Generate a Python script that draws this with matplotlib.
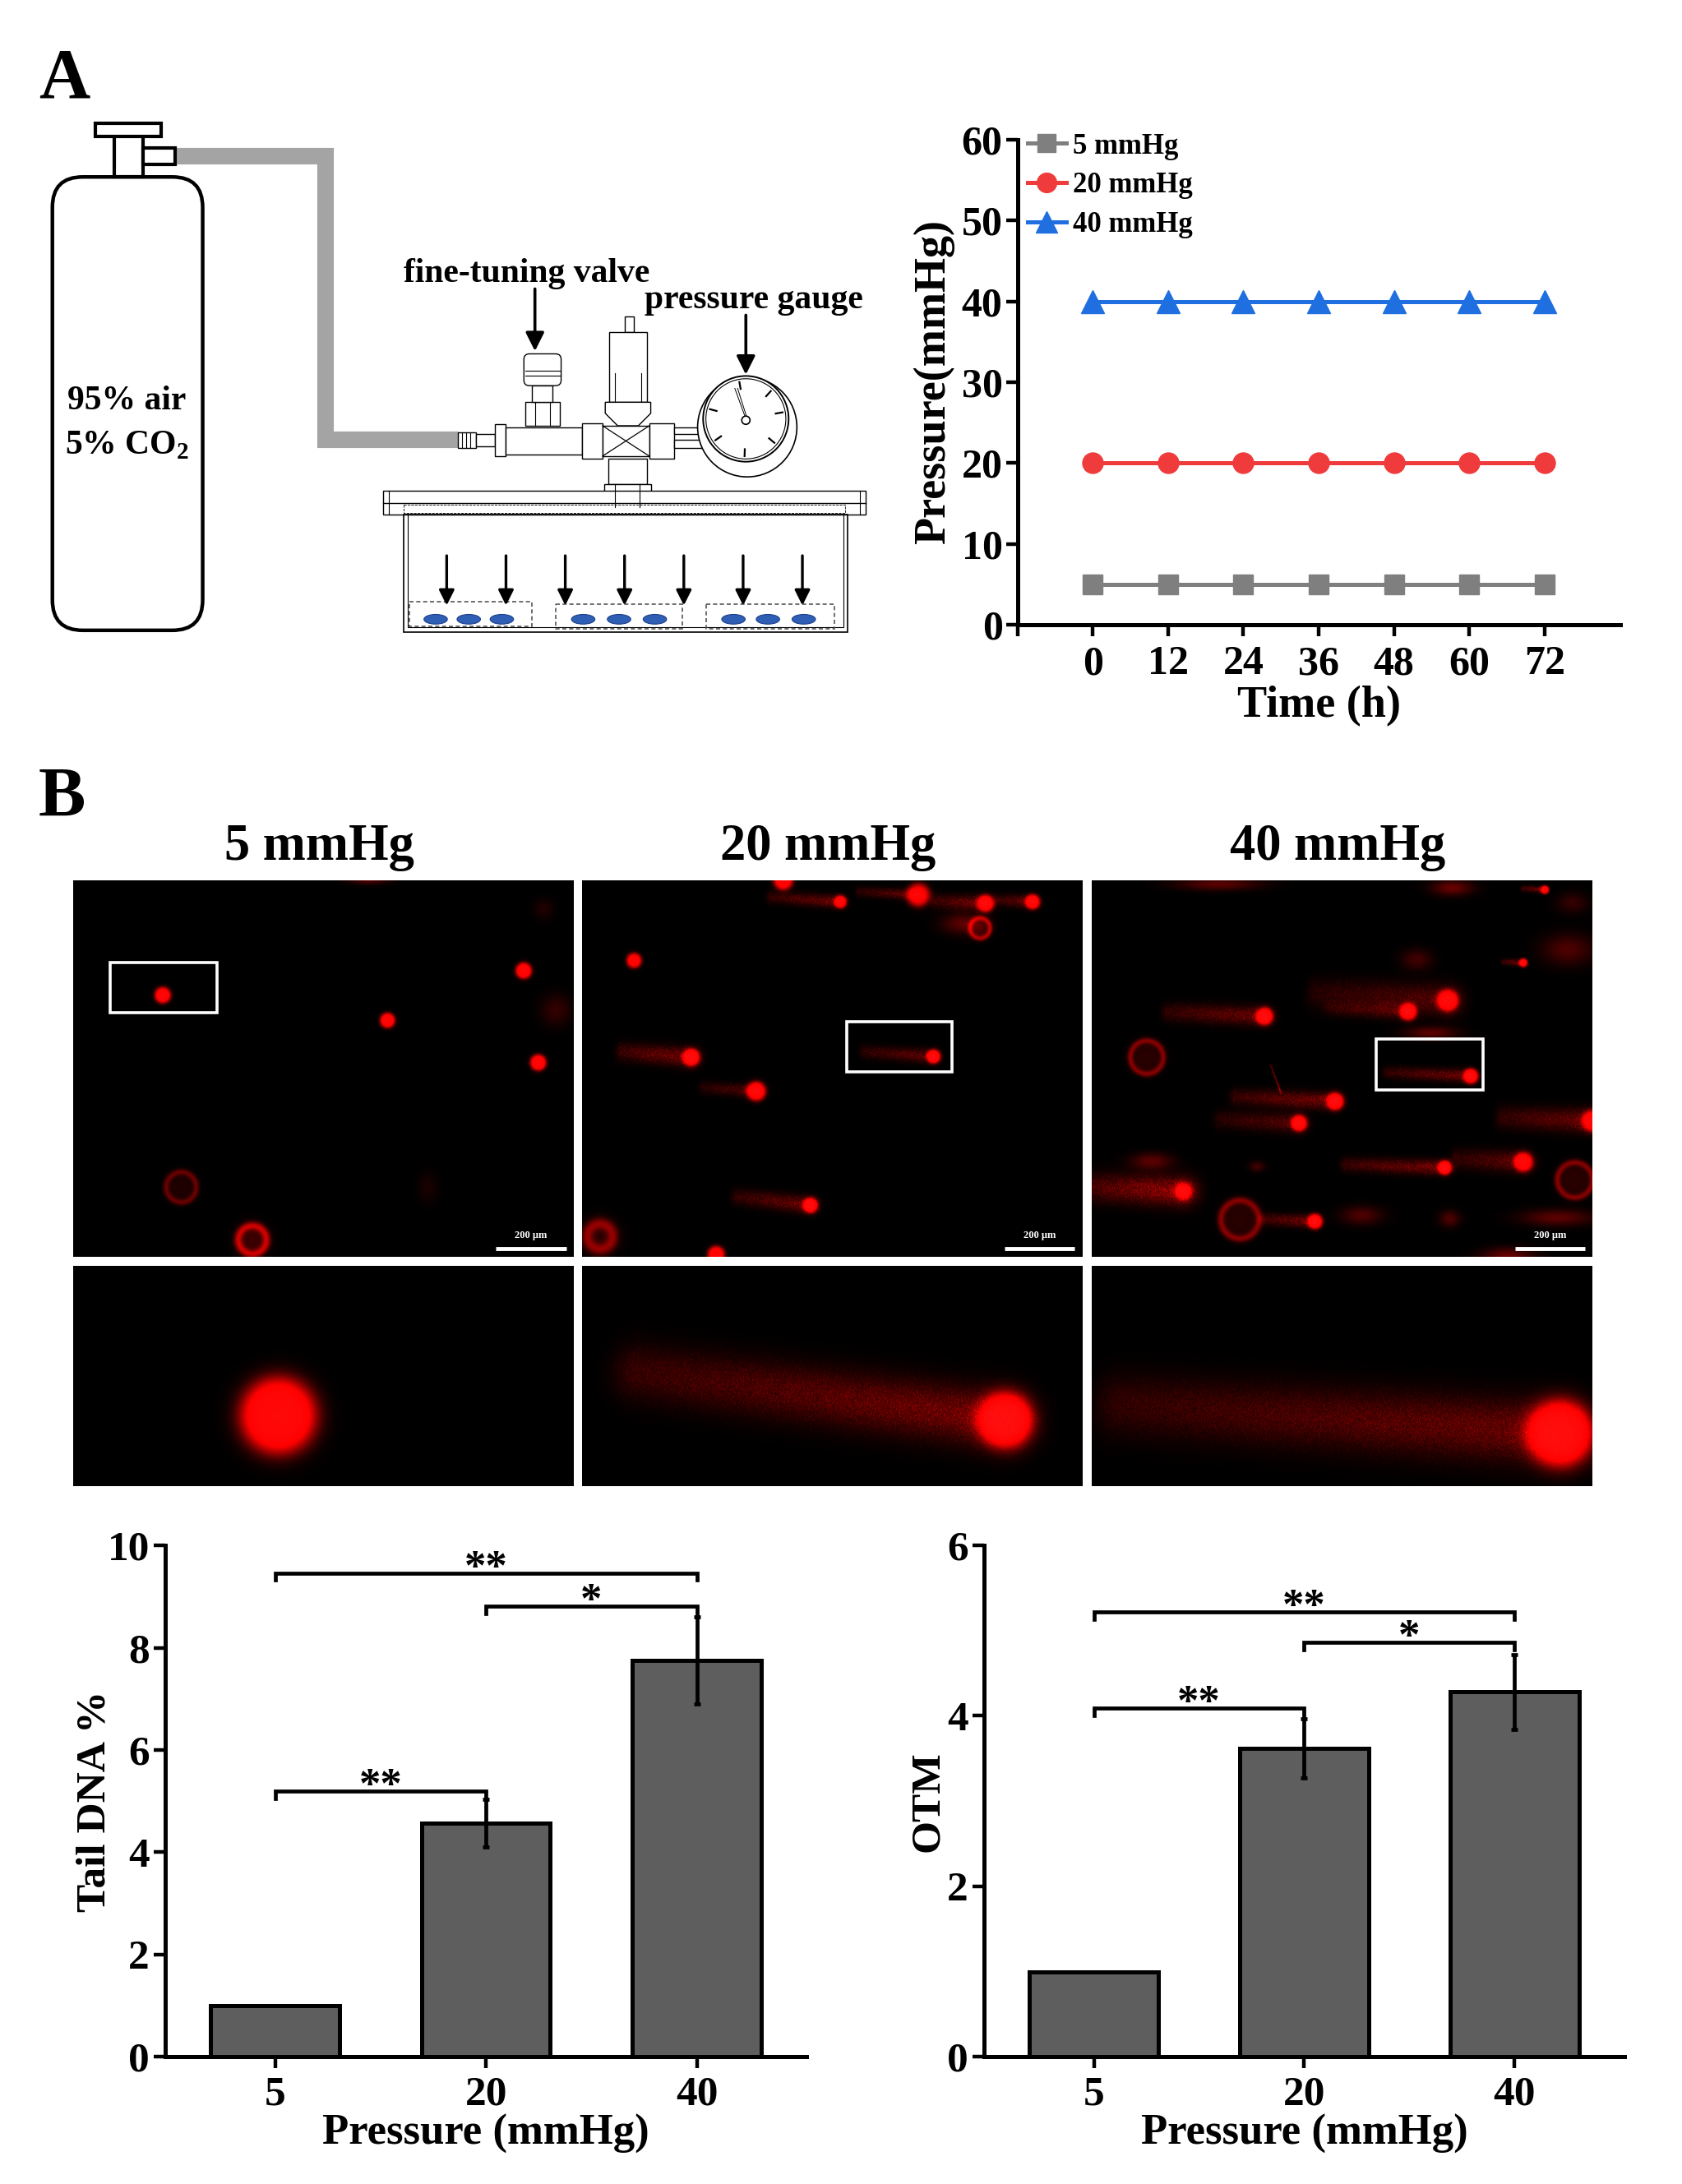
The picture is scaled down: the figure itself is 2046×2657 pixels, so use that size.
import numpy as np
import matplotlib
matplotlib.use("Agg")
import matplotlib.pyplot as plt
from matplotlib.patches import Rectangle, FancyBboxPatch, Circle, Ellipse, Polygon

plt.rcParams['font.family'] = ['Liberation Serif', 'DejaVu Serif']
plt.rcParams['font.weight'] = 'bold'
plt.rcParams['axes.labelweight'] = 'bold'
plt.rcParams['mathtext.fontset'] = 'custom'
plt.rcParams['mathtext.rm'] = 'Liberation Serif:bold'

# ---------------- data ----------------
times = [0, 12, 24, 36, 48, 60, 72]
time_ticks = [-12, 0, 12, 24, 36, 48, 60, 72]
time_tick_labels = ['', '0', '12', '24', '36', '48', '60', '72']
p_5 = [5, 5, 5, 5, 5, 5, 5]
p_20 = [20, 20, 20, 20, 20, 20, 20]
p_40 = [40, 40, 40, 40, 40, 40, 40]
series_labels = ['5 mmHg', '20 mmHg', '40 mmHg']
series_colors = ['#7f7f7f', '#ef3b3b', '#1f6fe0']
series_markers = ['s', 'o', '^']
p_ticks = [0, 10, 20, 30, 40, 50, 60]

groups = ['5', '20', '40']
tail_dna = [1.0, 4.57, 7.75]
tail_dna_err = [0.0, 0.46, 0.85]
otm = [1.0, 3.62, 4.28]
otm_err = [0.0, 0.35, 0.44]
tail_ticks = [0, 2, 4, 6, 8, 10]
otm_ticks = [0, 2, 4, 6]
# significance brackets: (from group, to group, height, label)
tail_sig = [(0, 2, 9.46, '**'), (1, 2, 8.81, '*'), (0, 1, 5.19, '**')]
otm_sig = [(0, 2, 5.22, '**'), (1, 2, 4.86, '*'), (0, 1, 4.09, '**')]

panel_titles = ['5 mmHg', '20 mmHg', '40 mmHg']

# comet images: heads (x, y, r, amp), tails (x0, y0, x1, y1, halfwidth, amp),
# rings (x, y, r, width, amp), blobs (x, y, rx, ry, amp)  -- normalised image coords
img5_heads = [(0.179, 0.305, 0.015, 1.3), (0.628, 0.372, 0.014, 1.3),
              (0.900, 0.240, 0.015, 1.3), (0.929, 0.484, 0.015, 1.3)]
img5_tails = []
img5_rings = [(0.216, 0.815, 0.030, 0.006, 0.35), (0.358, 0.955, 0.028, 0.008, 0.7)]
img5_blobs = [(0.965, 0.345, 0.03, 0.03, 0.2), (0.709, 0.815, 0.02, 0.03, 0.1),
              (0.94, 0.076, 0.02, 0.02, 0.12), (0.59, 0.0, 0.04, 0.008, 0.3)]

img20_heads = [(0.402, 0.0, 0.018, 1.2), (0.516, 0.057, 0.012, 1.0), (0.672, 0.039, 0.022, 1.0),
               (0.806, 0.061, 0.016, 1.1), (0.900, 0.057, 0.014, 1.1), (0.104, 0.213, 0.014, 1.2),
               (0.218, 0.470, 0.016, 1.2), (0.348, 0.560, 0.018, 1.2), (0.702, 0.468, 0.013, 1.2),
               (0.456, 0.863, 0.014, 1.2), (0.268, 0.994, 0.016, 1.2)]
img20_tails = [(0.376, 0.045, 0.516, 0.057, 0.012, 0.45), (0.552, 0.030, 0.672, 0.039, 0.010, 0.4),
               (0.702, 0.055, 0.806, 0.061, 0.014, 0.5), (0.826, 0.052, 0.900, 0.057, 0.012, 0.45),
               (0.076, 0.455, 0.218, 0.470, 0.018, 0.5), (0.239, 0.550, 0.348, 0.560, 0.012, 0.35),
               (0.562, 0.455, 0.702, 0.468, 0.013, 0.4), (0.307, 0.840, 0.456, 0.863, 0.016, 0.45)]
img20_rings = [(0.795, 0.127, 0.020, 0.005, 0.6), (0.036, 0.946, 0.025, 0.012, 0.5)]
img20_blobs = [(0.76, 0.115, 0.04, 0.02, 0.35)]

img40_heads = [(0.905, 0.025, 0.008, 1.0), (0.862, 0.219, 0.008, 1.1), (0.711, 0.319, 0.020, 1.2),
               (0.632, 0.349, 0.016, 1.2), (0.345, 0.361, 0.016, 1.2), (0.757, 0.520, 0.014, 1.2),
               (0.486, 0.587, 0.016, 1.2), (0.414, 0.645, 0.015, 1.2), (1.0, 0.639, 0.020, 1.0),
               (0.705, 0.763, 0.013, 1.2), (0.862, 0.748, 0.018, 1.1), (0.183, 0.826, 0.016, 1.0),
               (0.446, 0.906, 0.014, 1.2)]
img40_tails = [(0.86, 0.022, 0.905, 0.025, 0.006, 0.5), (0.82, 0.216, 0.862, 0.219, 0.006, 0.5),
               (0.446, 0.300, 0.711, 0.319, 0.030, 0.35), (0.472, 0.340, 0.632, 0.349, 0.014, 0.3),
               (0.150, 0.350, 0.345, 0.361, 0.018, 0.45), (0.589, 0.510, 0.757, 0.520, 0.012, 0.45),
               (0.286, 0.575, 0.486, 0.587, 0.016, 0.5), (0.253, 0.635, 0.414, 0.645, 0.018, 0.35),
               (0.818, 0.630, 1.0, 0.639, 0.022, 0.45), (0.506, 0.755, 0.705, 0.763, 0.014, 0.5),
               (0.725, 0.740, 0.862, 0.748, 0.020, 0.4), (0.0, 0.815, 0.183, 0.826, 0.028, 0.65),
               (0.339, 0.900, 0.446, 0.906, 0.012, 0.5), (0.357, 0.490, 0.378, 0.565, 0.002, 0.6)]
img40_rings = [(0.110, 0.470, 0.033, 0.006, 0.45), (0.965, 0.796, 0.035, 0.006, 0.45),
               (0.296, 0.901, 0.038, 0.007, 0.45)]
img40_blobs = [(0.253, 0.01, 0.08, 0.012, 0.35), (0.72, 0.02, 0.04, 0.015, 0.4),
               (0.96, 0.06, 0.03, 0.02, 0.2), (0.649, 0.210, 0.03, 0.02, 0.25),
               (0.951, 0.184, 0.05, 0.03, 0.3), (0.679, 0.405, 0.05, 0.012, 0.35),
               (0.120, 0.746, 0.04, 0.016, 0.35), (0.33, 0.76, 0.015, 0.01, 0.25),
               (0.539, 0.890, 0.04, 0.018, 0.3), (0.715, 0.899, 0.02, 0.016, 0.3),
               (0.93, 0.896, 0.07, 0.016, 0.35), (0.832, 0.998, 0.05, 0.016, 0.4)]

zoom5_heads = [(0.41, 0.68, 0.072, 1.4)]
zoom5_tails = []
zoom20_heads = [(0.845, 0.70, 0.052, 1.3)]
zoom20_tails = [(0.10, 0.48, 0.845, 0.70, 0.055, 0.5)]
zoom40_heads = [(0.935, 0.76, 0.062, 1.3)]
zoom40_tails = [(0.05, 0.63, 0.935, 0.76, 0.06, 0.45)]

# boxes marking the magnified comet (x0, y0, x1, y1)
boxes = [(0.074, 0.218, 0.287, 0.352), (0.529, 0.375, 0.740, 0.508), (0.568, 0.422, 0.782, 0.556)]

# ---------------- figure ----------------
W, H = 1220.0, 1580.0
fig = plt.figure(figsize=(20.46, 26.57), dpi=100)
fig.patch.set_facecolor('white')


def fa(x0, y0, x1, y1):
    return [x0 / W, 1 - y1 / H, (x1 - x0) / W, (y1 - y0) / H]


ov = fig.add_axes([0, 0, 1, 1])
ov.set_xlim(0, W)
ov.set_ylim(H, 0)
ov.axis('off')

# panel letters
ov.text(28, 58, 'A', fontsize=62, fontweight='bold', va='center', ha='left')
ov.text(28, 578, 'B', fontsize=62, fontweight='bold', va='center', ha='left')

# ------------- schematic -------------
def rect(x0, y0, x1, y1, lw=1.2, fc='white', ec='black', z=3, **kw):
    ov.add_patch(Rectangle((x0, y0), x1 - x0, y1 - y0, lw=lw, fc=fc, ec=ec, zorder=z, **kw))


def arrow(x, y0, y1, lw=2.6, ms=34):
    ov.annotate('', xy=(x, y1), xytext=(x, y0),
                arrowprops=dict(arrowstyle='-|>', lw=lw, color='black',
                                mutation_scale=ms, shrinkA=0, shrinkB=0), zorder=6)


# cylinder
ov.add_patch(FancyBboxPatch((38, 128), 109, 328, boxstyle='round,pad=0,rounding_size=22',
                            lw=3.2, fc='white', ec='black', zorder=3))
rect(83, 98, 104, 128, lw=3.0)
rect(69, 89, 117, 99, lw=3.0)
rect(104, 107, 127, 119, lw=3.0)
ov.text(92, 290, '95% air', fontsize=30, ha='center', va='center', zorder=5)
ov.text(92, 322, '5% CO$_\\mathregular{2}$', fontsize=30, ha='center', va='center', zorder=5)

# gas tube
ov.plot([127, 236, 236, 333], [113, 113, 318, 318], color='#a4a4a4', lw=14.5,
        solid_joinstyle='miter', solid_capstyle='butt', zorder=2)

# connector & valve body
rect(332, 313, 345, 324, lw=1.0)
for xx in [335, 338, 341]:
    ov.plot([xx, xx], [313, 324], color='k', lw=0.8, zorder=4)
rect(345, 314, 359, 323, lw=1.0)
rect(359, 307, 367, 330, lw=1.0)
rect(367, 309, 422, 329, lw=1.0)
rect(422, 306, 437, 332, lw=1.0)
rect(437, 308, 471, 330, lw=1.0)
ov.plot([437, 471], [308, 330], color='k', lw=0.9, zorder=4)
ov.plot([437, 471], [330, 308], color='k', lw=0.9, zorder=4)
rect(471, 306, 489, 332, lw=1.0)
rect(489, 309, 513, 314, lw=1.0)
rect(489, 318, 513, 324, lw=1.0)
# fine tuning valve
rect(381, 291, 406, 308, lw=1.0)
ov.plot([388, 388], [291, 308], color='k', lw=0.8, zorder=4)
ov.plot([399, 399], [291, 308], color='k', lw=0.8, zorder=4)
rect(386, 279, 401, 291, lw=1.0)
ov.add_patch(FancyBboxPatch((380, 256), 27, 23, boxstyle='round,pad=0,rounding_size=4',
                            lw=1.0, fc='white', ec='k', zorder=3))
ov.plot([381, 406], [268, 268], color='k', lw=0.8, zorder=4)
ov.plot([381, 406], [272, 272], color='k', lw=0.8, zorder=4)
# relief valve (top)
rect(453, 229, 460, 240, lw=1.0)
rect(442, 240, 469, 291, lw=1.0)
ov.plot([446, 446], [270, 291], color='k', lw=0.8, zorder=4)
ov.plot([465, 465], [270, 291], color='k', lw=0.8, zorder=4)
ov.add_patch(Polygon([(439, 291), (472, 291), (472, 299), (463, 308), (448, 308), (439, 299)],
                     closed=True, lw=1.0, fc='white', ec='k', zorder=3))
# lower parts
rect(441, 332, 469, 350, lw=1.0)
rect(438, 350, 472, 367, lw=1.0)
ov.plot([446, 446], [350, 367], color='k', lw=0.8, zorder=4)
ov.plot([464, 464], [350, 367], color='k', lw=0.8, zorder=4)
# gauge
ov.add_patch(Circle((542, 309), 36, lw=1.2, fc='white', ec='k', zorder=3))
ov.add_patch(Circle((541, 303), 31, lw=1.4, fc='white', ec='k', zorder=4))
ov.add_patch(Circle((541, 303), 29, lw=0.8, fc='white', ec='k', zorder=4))
for ang in [100, 48, 165, 215, 268, 320, 10]:
    a = np.deg2rad(ang)
    ov.plot([541 + 22 * np.cos(a), 541 + 27 * np.cos(a)], [303 - 22 * np.sin(a), 303 - 27 * np.sin(a)],
            color='k', lw=1.6, zorder=5)
ov.plot([541, 533], [303, 281], color='k', lw=0.7, zorder=5)
ov.plot([542, 535], [303, 281], color='k', lw=0.7, zorder=5)
ov.add_patch(Circle((541, 304), 3, lw=1.2, fc='white', ec='k', zorder=6))

# chamber lid and body
rect(278, 355, 628, 372, lw=1.0)
ov.plot([278, 628], [364, 364], color='k', lw=1.0, zorder=4)
ov.plot([282, 282], [355, 372], color='k', lw=0.8, zorder=4)
ov.plot([624, 624], [355, 372], color='k', lw=0.8, zorder=4)
rect(293, 365, 613, 371, lw=0.6, ls='--', fc='none', z=4)
rect(293, 372, 615, 457, lw=1.2, fc='none')
rect(296, 372, 612, 454, lw=0.8, fc='none')

for xa in [324, 367, 410, 453, 496, 539, 582]:
    arrow(xa, 402, 438, lw=2.4, ms=28)

for (bx0, by0, bx1, by1), cxs in zip([(297, 435, 386, 453), (403, 437, 495, 455), (512, 437, 605, 455)],
                                     [(316, 340, 364), (423, 449, 475), (532, 557, 583)]):
    ov.add_patch(Rectangle((bx0, by0), bx1 - bx0, by1 - by0, lw=1.2, ls=(0, (3, 2)),
                           fc='none', ec='#555555', zorder=4))
    for cx in cxs:
        ov.add_patch(Ellipse((cx, 448), 17, 7, fc='#2f5fb5', ec='#1c3f8a', lw=0.8, zorder=5))

ov.text(382, 198, 'fine-tuning valve', fontsize=30, ha='center', va='center')
arrow(388, 209, 254)
ov.text(547, 217, 'pressure gauge', fontsize=30, ha='center', va='center')
arrow(541, 228, 271)

# ------------- line chart -------------
ax = fig.add_axes(fa(738, 101, 1175, 452))
for vals, lab, col, mk in zip([p_5, p_20, p_40], series_labels, series_colors, series_markers):
    ms = {'s': 17, 'o': 18, '^': 20}[mk]
    ax.plot(times, vals, color=col, lw=3.6, marker=mk, markersize=ms, label=lab,
            markeredgecolor=col, clip_on=False)
ax.set_xlim(-12, 84)
ax.set_ylim(0, 60)
ax.set_xticks(time_ticks)
ax.set_xticklabels(time_tick_labels)
ax.set_yticks(p_ticks)
for s in ['top', 'right']:
    ax.spines[s].set_visible(False)
for s in ['left', 'bottom']:
    ax.spines[s].set_linewidth(3.6)
ax.tick_params(axis='both', direction='out', length=10, width=3.2, labelsize=36)
ax.tick_params(axis='y', pad=3)
ax.tick_params(axis='x', pad=8)
ax.set_xlabel('Time (h)', fontsize=39, labelpad=2)
ax.set_ylabel('Pressure(mmHg)', fontsize=39, labelpad=6)
leg = ax.legend(loc='upper left', bbox_to_anchor=(0.012, 1.02), frameon=False, fontsize=25,
                handlelength=1.35, handletextpad=0.25, labelspacing=0.42, borderaxespad=0,
                borderpad=0.1, markerscale=0.95)

# ------------- comet images -------------
def render(w, h, heads, tails, rings, blobs):
    asp = h / w
    ys, xs = np.mgrid[0:h, 0:w]
    X = (xs + 0.5) / w
    Y = (ys + 0.5) / w
    R = np.zeros((h, w))
    grain = np.modf(np.abs(np.sin(xs * 12.9898 + ys * 78.233) * 43758.5453))[0]
    tex = 0.45 + 0.9 * grain
    for (x0, y0, x1, y1, hw, a) in tails:
        y0a, y1a = y0 * asp, y1 * asp
        dx, dy = x1 - x0, y1a - y0a
        L2 = dx * dx + dy * dy
        t = ((X - x0) * dx + (Y - y0a) * dy) / L2
        tc = np.clip(t, 0, 1)
        dp = np.hypot(X - (x0 + tc * dx), Y - (y0a + tc * dy))
        env = np.exp(-(dp / hw) ** 2) * (0.45 + 0.55 * tc) * np.clip(t / 0.12 + 1.0, 0, 1)
        R += a * env * tex
    for (cx, cy, r, wd, a) in rings:
        d = np.hypot(X - cx, Y - cy * asp)
        R += a * np.exp(-((d - r) / wd) ** 2) + 0.35 * a / (1 + np.exp((d - r) / wd))
    for (cx, cy, rx, ry, a) in blobs:
        R += a * np.exp(-(((X - cx) / rx) ** 2 + ((Y - cy * asp) / ry) ** 2))
    for (cx, cy, r, a) in heads:
        d = np.hypot(X - cx, Y - cy * asp)
        R += a / (1 + np.exp((d - r) / (0.16 * r)))
    red = np.clip(R, 0, 1)
    gb = np.clip((R - 1.0) * 0.08, 0, 0.08)
    return np.dstack([red, gb, gb])


img_cols = [(53, 416), (422, 785), (792, 1155)]
tops = [(img5_heads, img5_tails, img5_rings, img5_blobs),
        (img20_heads, img20_tails, img20_rings, img20_blobs),
        (img40_heads, img40_tails, img40_rings, img40_blobs)]
zooms = [(zoom5_heads, zoom5_tails), (zoom20_heads, zoom20_tails), (zoom40_heads, zoom40_tails)]

for i, ((x0, x1), comp, zc, box, title) in enumerate(zip(img_cols, tops, zooms, boxes, panel_titles)):
    a1 = fig.add_axes(fa(x0, 637, x1, 909))
    a1.imshow(render(609, 456, *comp), extent=(0, 1, 1, 0), aspect='auto', interpolation='bilinear')
    a1.set_xlim(0, 1)
    a1.set_ylim(1, 0)
    a1.axis('off')
    bx0, by0, bx1, by1 = box
    a1.add_patch(Rectangle((bx0, by0), bx1 - bx0, by1 - by0, fc='none', ec='white', lw=2.6))
    a1.plot([0.845, 0.985], [0.978, 0.978], color='white', lw=3.5, solid_capstyle='butt')
    a1.text(0.915, 0.958, '200 μm', color='white', fontsize=9, ha='center', va='bottom')
    a2 = fig.add_axes(fa(x0, 916, x1, 1075))
    a2.imshow(render(609, 267, zc[0], zc[1], [], []), extent=(0, 1, 1, 0), aspect='auto',
              interpolation='bilinear')
    a2.set_xlim(0, 1)
    a2.set_ylim(1, 0)
    a2.axis('off')
    ov.text((x0 + x1) / 2 - 3, 613, title, fontsize=45, ha='center', va='center')

# ------------- bar charts -------------
def bar_chart(rect_, vals, errs, ticks, ylab, sig, tick_d, ylpad):
    b = fig.add_axes(rect_)
    xs = np.arange(len(groups))
    b.bar(xs, vals, width=0.61, color='#5e5e5e', edgecolor='black', linewidth=3.6, zorder=2)
    for xi, v, e in zip(xs, vals, errs):
        if e > 0:
            b.errorbar(xi, v, yerr=e, fmt='none', ecolor='black', elinewidth=3.4, capsize=3,
                       capthick=3.4, zorder=3)
    for g0, g1, hgt, lab in sig:
        b.plot([g0, g0, g1, g1], [hgt - tick_d, hgt, hgt, hgt - tick_d], color='black', lw=3.4,
               solid_joinstyle='miter', zorder=3, clip_on=False)
        b.text((g0 + g1) / 2, hgt - tick_d * 0.9, lab, fontsize=38, ha='center', va='baseline')
    b.set_xlim(-0.52, 2.52)
    b.set_ylim(ticks[0], ticks[-1])
    b.set_yticks(ticks)
    b.set_xticks(xs)
    b.set_xticklabels(groups)
    for s in ['top', 'right']:
        b.spines[s].set_visible(False)
    for s in ['left', 'bottom']:
        b.spines[s].set_linewidth(3.6)
    b.tick_params(axis='both', direction='out', length=10, width=3.2, labelsize=37)
    b.tick_params(axis='y', pad=4)
    b.tick_params(axis='x', pad=7)
    b.set_xlabel('Pressure (mmHg)', fontsize=38, labelpad=0)
    b.set_ylabel(ylab, fontsize=37, labelpad=ylpad)
    return b


bar_chart(fa(120, 1118, 585, 1488), tail_dna, tail_dna_err, tail_ticks, 'Tail DNA %', tail_sig, 0.14, -6)
bar_chart(fa(714, 1118, 1178, 1488), otm, otm_err, otm_ticks, 'OTM', otm_sig, 0.085, 0)

fig.savefig('out.png', dpi=100, facecolor='white')
